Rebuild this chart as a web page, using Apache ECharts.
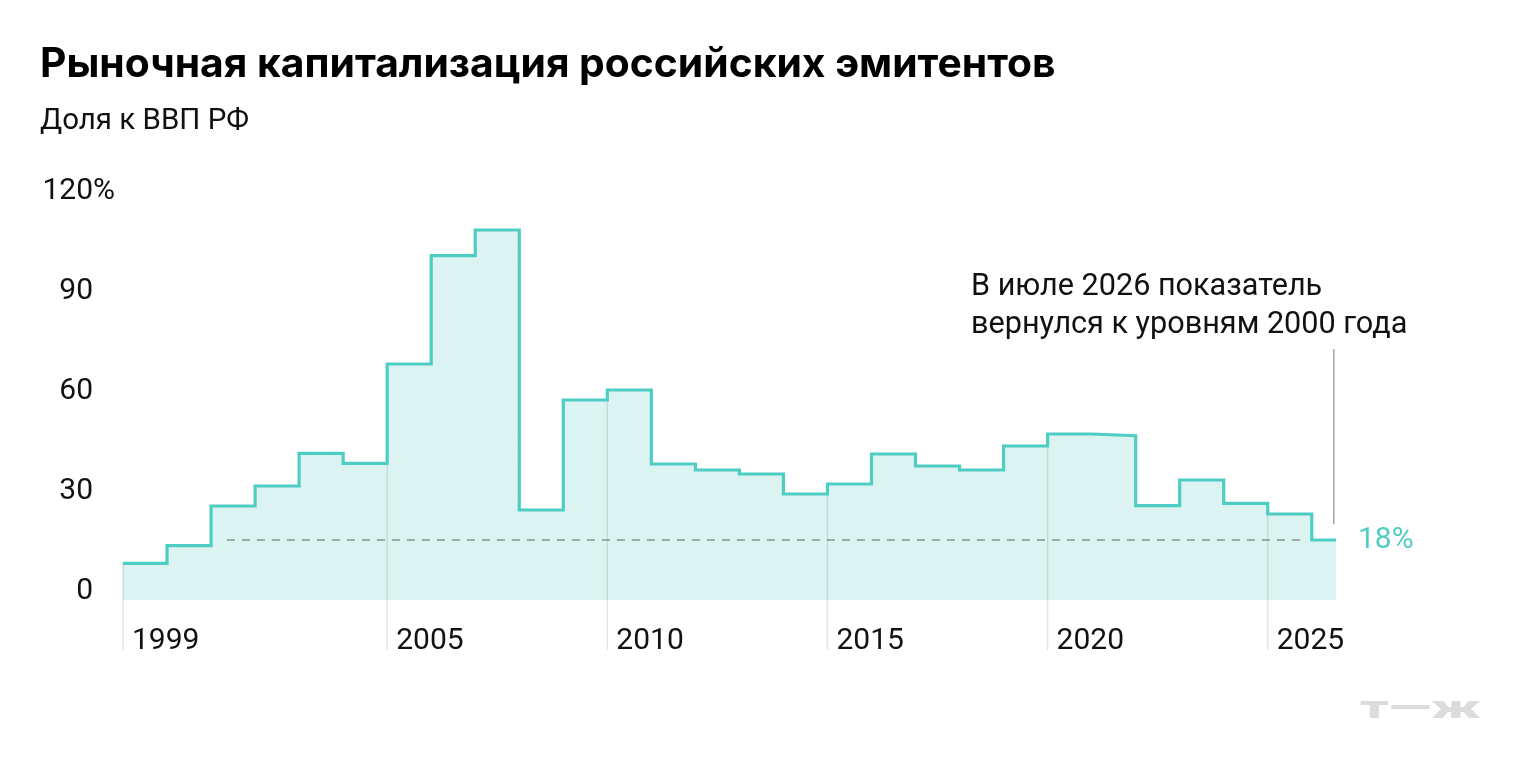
<!DOCTYPE html>
<html>
<head>
<meta charset="utf-8">
<script src="https://cdn.jsdelivr.net/npm/echarts@6/dist/echarts.min.js"></script>
<style>
  html, body { margin: 0; padding: 0; background: #fff; }
  #chart { width: 1520px; height: 780px; }
</style>
</head>
<body>
<div id="chart"></div>
<script>
// годы и доля капитализации к ВВП, %
const years = [1999, 2000, 2001, 2002, 2003, 2004, 2005, 2006, 2007, 2008, 2009, 2010, 2011, 2012,
  2013, 2014, 2015, 2016, 2017, 2018, 2019, 2020, 2021, 2022, 2023, 2024, 2025, 2026]
const shares = [11.0, 16.3, 28.2, 34.2, 44, 41, 70.8, 103.3, 111, 27, 60, 63, 40.8, 39,
  37.8, 31.8, 34.8, 43.8, 40.2, 39, 46.2, 49.8, 49.3, 28.3, 36, 29, 25.8, 18]
const dataEnd = 2026.55 // июль 2026
const labelYears = [1999, 2005, 2010, 2015, 2020, 2025]
const yTicks = [0, 30, 60, 90, 120]
const refLevel = 18
const refFrom = 2001.36
const refTo = 2025.8
const noteX = 2026.5
const noteFrom = 22.8
const noteTo = 75.3

const FONT = 'Roboto'
const TEAL = '#4ecdc4'

const stepData = years.map((y, i) => [y, shares[i]])
stepData.push([dataEnd, shares[shares.length - 1]])

const gridLines = labelYears.map(y => [y, shares[years.indexOf(y)]])

const yLabel = {
  verticalAlign: 'bottom',
  lineHeight: 17,
  margin: 30,
  fontFamily: FONT,
  fontSize: 30,
  color: '#111'
}

const chart = echarts.init(document.getElementById('chart'))
const option = {
  animation: false,
  backgroundColor: '#fff',
  grid: { left: 123, right: 184, top: 200, bottom: 180 },
  xAxis: {
    type: 'value',
    min: 1999,
    max: dataEnd,
    interval: 1,
    axisLine: { show: false },
    axisTick: { show: false },
    splitLine: { show: false },
    axisLabel: {
      showMaxLabel: false,
      formatter: v => labelYears.includes(v) ? String(v) : '',
      align: 'left',
      padding: [0, 0, 0, 9],
      margin: 26,
      fontFamily: FONT,
      fontSize: 30,
      color: '#111'
    }
  },
  yAxis: [{
    type: 'value',
    min: 0,
    max: 120,
    interval: 30,
    axisLine: { show: false },
    axisTick: { show: false },
    splitLine: { show: false },
    axisLabel: Object.assign({
      formatter: v => yTicks.includes(v) ? String(v) : '',
      align: 'right'
    }, yLabel)
  }, {
    // знак процента у верхней отметки
    type: 'value',
    position: 'left',
    min: 0,
    max: 120,
    interval: 30,
    axisLine: { show: false },
    axisTick: { show: false },
    splitLine: { show: false },
    axisLabel: Object.assign({
      formatter: v => v === 120 ? '%' : '',
      align: 'left'
    }, yLabel)
  }],
  series: [
    {
      // заливка под ступенями
      type: 'line',
      step: 'end',
      data: stepData,
      symbol: 'none',
      lineStyle: { width: 0 },
      areaStyle: { color: '#dcf4f1', opacity: 1 },
      z: 1,
      silent: true
    },
    {
      // вертикальные линии у подписанных лет
      type: 'custom',
      data: gridLines,
      z: 2,
      silent: true,
      renderItem(params, api) {
        const top = api.coord([api.value(0), api.value(1)])
        const base = api.coord([api.value(0), 0])
        return {
          type: 'line',
          shape: { x1: top[0], y1: top[1], x2: base[0], y2: base[1] + 50 },
          style: { stroke: 'rgba(0,0,0,0.1)', lineWidth: 1.5 }
        }
      }
    },
    {
      // пунктир на уровне 18%
      type: 'line',
      data: [[refFrom, refLevel], [refTo, refLevel]],
      symbol: 'none',
      lineStyle: { color: '#849190', width: 1.5, type: [8, 7] },
      z: 3,
      silent: true
    },
    {
      type: 'line',
      step: 'end',
      data: stepData,
      symbol: 'none',
      lineStyle: { color: TEAL, width: 3.2, join: 'miter' },
      z: 4,
      silent: true,
      endLabel: {
        show: true,
        formatter: '18%',
        fontFamily: FONT,
        fontSize: 30,
        color: TEAL,
        distance: 22
      }
    },
    {
      // выноска к подписи
      type: 'line',
      data: [[noteX, noteFrom], [noteX, noteTo]],
      symbol: 'none',
      lineStyle: { color: '#a3a3a3', width: 1.5 },
      z: 3,
      silent: true
    }
  ],
  graphic: [
    {
      type: 'text', left: 40, top: 44,
      style: { text: 'Рыночная капитализация российских эмитентов', font: 'bold 40.8px Inter', fill: '#000' }
    },
    {
      type: 'text', left: 40, top: 107,
      style: { text: 'Доля к ВВП РФ', font: '29.5px Roboto', fill: '#111' }
    },
    {
      type: 'text', left: 971, top: 268,
      style: {
        text: 'В июле 2026 показатель\nвернулся к уровням 2000 года',
        font: '30.6px Roboto', lineHeight: 38, fill: '#111'
      }
    },
    {
      type: 'text', left: 1360, top: 694, scaleX: 1.73,
      style: { text: 'т—ж', font: '900 32px Roboto', fill: '#dcdcdc' }
    }
  ]
}
chart.setOption(option)
</script>
</body>
</html>
